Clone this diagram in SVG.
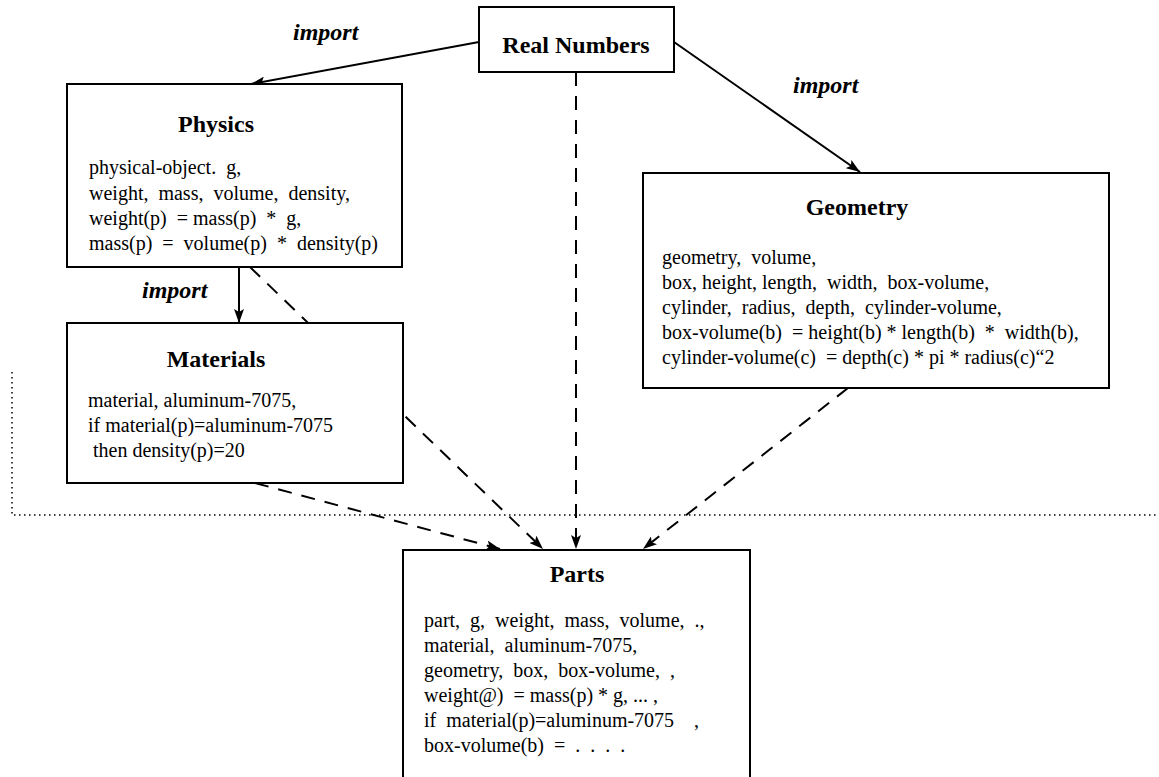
<svg xmlns="http://www.w3.org/2000/svg" width="1159" height="777" viewBox="0 0 1159 777" xml:space="preserve">
<style>
text{font-family:'Liberation Serif','Times New Roman',Times,'DejaVu Serif',serif;fill:#000}
.box{fill:#fff;stroke:#000;stroke-width:2}
.title{font-weight:bold;font-size:24px}
.body{font-size:20px;white-space:pre}
.lbl{font-weight:bold;font-style:italic;font-size:24px}
.solid{stroke:#000;stroke-width:2;fill:none}
.dash{stroke:#000;stroke-width:2;fill:none;stroke-dasharray:14 10}
.dot{stroke:#000;stroke-width:1.5;fill:none;stroke-dasharray:1.5 3.5}
</style>
<defs>
<marker id="ah" viewBox="0 0 14 10" refX="14" refY="5" markerWidth="14" markerHeight="10" markerUnits="userSpaceOnUse" orient="auto">
<path d="M0,0 L14,5 L0,10 L3,5 Z" fill="#000"/>
</marker>
</defs>
<g id="connectors">
<line class="solid" x1="479" y1="42" x2="251" y2="84" marker-end="url(#ah)"/>
<line class="solid" x1="674" y1="42" x2="860" y2="172" marker-end="url(#ah)"/>
<line class="solid" x1="239" y1="267" x2="239" y2="323" marker-end="url(#ah)"/>
<line class="dash" x1="250" y1="267" x2="543" y2="549" marker-end="url(#ah)"/>
<line class="dash" x1="255" y1="483" x2="500" y2="549" marker-end="url(#ah)"/>
<line class="dash" x1="576" y1="72" x2="576" y2="549" marker-end="url(#ah)"/>
<line class="dash" x1="848" y1="388" x2="643" y2="549" marker-end="url(#ah)"/>
<polyline class="dot" points="12,372 12,515 1159,515"/>
<text class="lbl" x="293" y="40" font-family="Liberation Serif, serif">import</text>
<text class="lbl" x="793" y="93" font-family="Liberation Serif, serif">import</text>
<text class="lbl" x="142" y="298" font-family="Liberation Serif, serif">import</text>
</g>
<g id="real-numbers">
<rect class="box" x="479" y="7" width="195" height="65"/>
<text class="title" x="576" y="53" text-anchor="middle">Real  Numbers</text>
</g>
<g id="physics">
<rect class="box" x="67" y="84" width="335" height="183"/>
<text class="title" x="216" y="132" text-anchor="middle">Physics</text>
<text class="body" x="89" y="174">physical-object.  g,</text>
<text class="body" x="89" y="200">weight,  mass,  volume,  density,</text>
<text class="body" x="89" y="225">weight(p)  = mass(p)  *  g,</text>
<text class="body" x="89" y="250">mass(p)  =  volume(p)  *  density(p)</text>
</g>
<g id="materials">
<rect class="box" x="67" y="323" width="336" height="160"/>
<text class="title" x="216" y="367" text-anchor="middle">Materials</text>
<text class="body" x="88" y="407">material, aluminum-7075,</text>
<text class="body" x="88" y="432">if material(p)=aluminum-7075</text>
<text class="body" x="88" y="457"> then density(p)=20</text>
</g>
<g id="geometry">
<rect class="box" x="643" y="173" width="466" height="215"/>
<text class="title" x="857" y="215" text-anchor="middle">Geometry</text>
<text class="body" x="662" y="264">geometry,  volume,</text>
<text class="body" x="662" y="289">box, height, length,  width,  box-volume,</text>
<text class="body" x="662" y="314">cylinder,  radius,  depth,  cylinder-volume,</text>
<text class="body" x="662" y="339">box-volume(b)  = height(b) * length(b)  *  width(b),</text>
<text class="body" x="662" y="364">cylinder-volume(c)  = depth(c) * pi * radius(c)“2</text>
</g>
<g id="parts">
<rect class="box" x="403" y="550" width="347" height="240"/>
<text class="title" x="577" y="582" text-anchor="middle">Parts</text>
<text class="body" x="424" y="627">part,  g,  weight,  mass,  volume,  .,</text>
<text class="body" x="424" y="652">material,  aluminum-7075,</text>
<text class="body" x="424" y="677">geometry,  box,  box-volume,  ,</text>
<text class="body" x="424" y="702">weight@)  = mass(p) * g, ... ,</text>
<text class="body" x="424" y="727">if  material(p)=aluminum-7075    ,</text>
<text class="body" x="424" y="752">box-volume(b)  =  .  .  .  .</text>
</g>
</svg>
